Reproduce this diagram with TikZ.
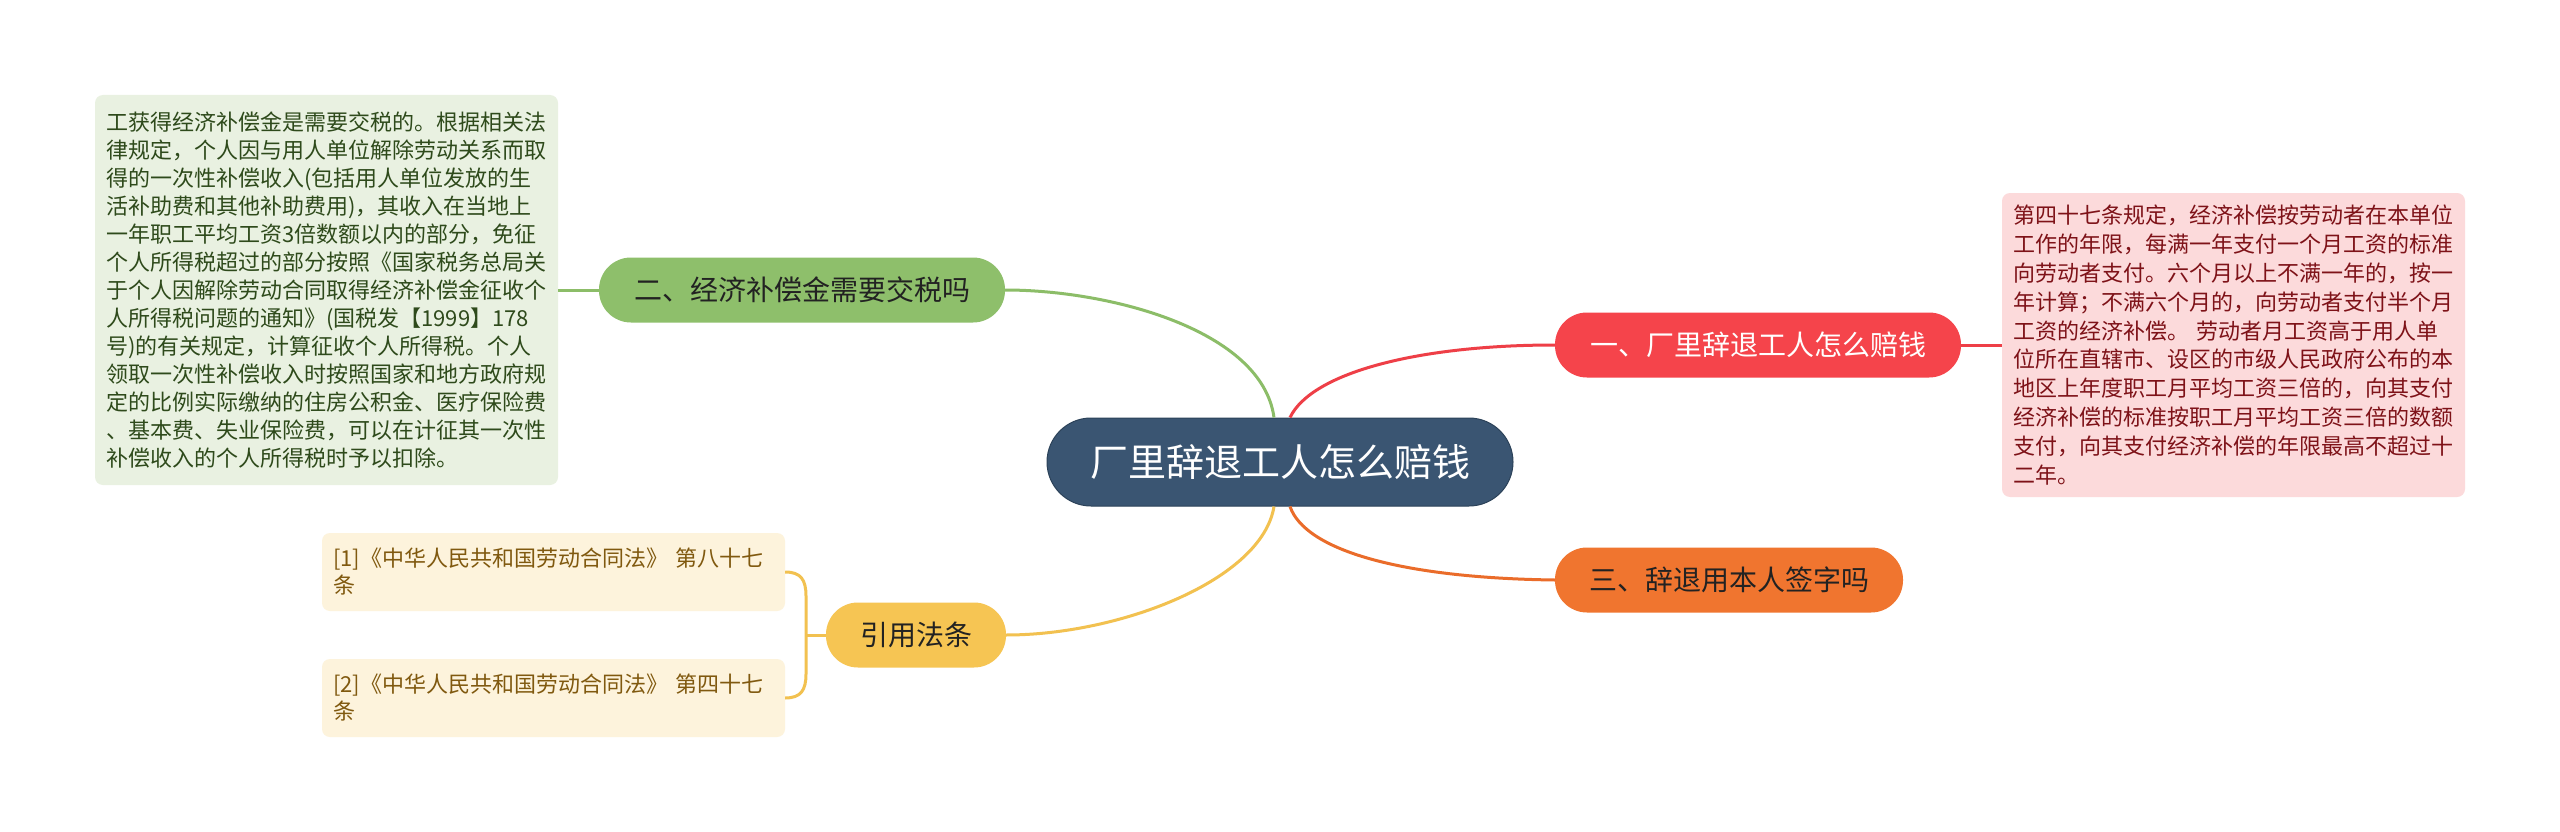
\documentclass[tikz,border=0pt]{standalone}
\usepackage{fontspec}
\setmainfont{Noto Sans CJK SC}
\usetikzlibrary{calc}
\definecolor{cnode}{HTML}{3A5572}
\definecolor{cedge}{HTML}{2C4259}
\definecolor{gnode}{HTML}{8EBF6B}
\definecolor{gline}{HTML}{8CBD68}
\definecolor{gbox}{HTML}{E9F1E1}
\definecolor{gtxt}{HTML}{2E4A1B}
\definecolor{rnode}{HTML}{F5444B}
\definecolor{rline}{HTML}{EE3F47}
\definecolor{rbox}{HTML}{FCDADB}
\definecolor{rtxt}{HTML}{7E1218}
\definecolor{onode}{HTML}{F0752F}
\definecolor{oline}{HTML}{EA6C2A}
\definecolor{ynode}{HTML}{F6C553}
\definecolor{yline}{HTML}{F2C150}
\definecolor{ybox}{HTML}{FDF3DC}
\definecolor{ytxt}{HTML}{80590F}
\definecolor{darktxt}{HTML}{222222}
\begin{document}
\begin{tikzpicture}[x=1pt,y=-1pt,
  pill/.style={rounded corners=32pt, minimum height=65pt, inner sep=0pt,
    font=\fontsize{28pt}{34pt}\selectfont},
  rootnode/.style={rounded corners=44pt, minimum height=88pt, minimum width=466pt,
    inner sep=0pt, fill=cnode, draw=cedge, line width=1pt, text=white,
    font=\fontsize{38pt}{44pt}\selectfont},
  detail/.style={rounded corners=8pt, inner xsep=11pt, inner ysep=0pt, align=left,
    text width=441pt},
  conn/.style={line width=3pt}
]
\fill[white] (0,0) rectangle (2560,832);
\useasboundingbox (0,0) rectangle (2560,832);

% root
\node[rootnode] (root) at (1280,462) {厂里辞退工人怎么赔钱};

% branch nodes
\node[pill, fill=gnode, text=darktxt, minimum width=406pt] (g) at (802,290) {二、经济补偿金需要交税吗};
\node[pill, fill=rnode, text=white, minimum width=406pt] (r) at (1758,345) {一、厂里辞退工人怎么赔钱};
\node[pill, fill=onode, text=darktxt, minimum width=348pt] (o) at (1729,580) {三、辞退用本人签字吗};
\node[pill, fill=ynode, text=darktxt, minimum width=180pt] (y) at (916,635) {引用法条};

% detail boxes
\node[detail, fill=gbox, text=gtxt, minimum height=390pt,
  font=\fontsize{22pt}{28pt}\selectfont] (gt) at (326.5,290) {工获得经济补偿金是需要交税的。根据相关法\\
律规定，个人因与用人单位解除劳动关系而取\\
得的一次性补偿收入(包括用人单位发放的生\\
活补助费和其他补助费用)，其收入在当地上\\
一年职工平均工资3倍数额以内的部分，免征\\
个人所得税超过的部分按照《国家税务总局关\\
于个人因解除劳动合同取得经济补偿金征收个\\
人所得税问题的通知》(国税发【1999】178\\
号)的有关规定，计算征收个人所得税。个人\\
领取一次性补偿收入时按照国家和地方政府规\\
定的比例实际缴纳的住房公积金、医疗保险费\\
、基本费、失业保险费，可以在计征其一次性\\
补偿收入的个人所得税时予以扣除。};

\node[detail, fill=rbox, text=rtxt, minimum height=304pt,
  font=\fontsize{22pt}{28.8pt}\selectfont] (rt) at (2233.5,345) {第四十七条规定，经济补偿按劳动者在本单位\\
工作的年限，每满一年支付一个月工资的标准\\
向劳动者支付。六个月以上不满一年的，按一\\
年计算；不满六个月的，向劳动者支付半个月\\
工资的经济补偿。 劳动者月工资高于用人单\\
位所在直辖市、设区的市级人民政府公布的本\\
地区上年度职工月平均工资三倍的，向其支付\\
经济补偿的标准按职工月平均工资三倍的数额\\
支付，向其支付经济补偿的年限最高不超过十\\
二年。};

\node[detail, fill=ybox, text=ytxt, minimum height=78pt,
  font=\fontsize{22pt}{27pt}\selectfont] (c1) at (553.5,572) {[1]《中华人民共和国劳动合同法》 第八十七\\条};
\node[detail, fill=ybox, text=ytxt, minimum height=78pt,
  font=\fontsize{22pt}{27pt}\selectfont] (c2) at (553.5,698) {[2]《中华人民共和国劳动合同法》 第四十七\\条};

% connectors from root
\coordinate (rtl) at ($(root.north)+(-6,0)$);
\coordinate (rtr) at ($(root.north)+(10,0)$);
\coordinate (rbl) at ($(root.south)+(-6,0)$);
\coordinate (rbr) at ($(root.south)+(10,0)$);
\draw[conn, gline] (rtl) .. controls (1262,330) and (1110,290) .. (g.east);
\draw[conn, rline] (rtr) .. controls (1312,372) and (1420,345) .. (r.west);
\draw[conn, oline] (rbr) .. controls (1305,550) and (1400,578) .. (o.west);
\draw[conn, yline] (rbl) .. controls (1262,580) and (1120,635) .. (y.east);

% leaf connectors
\draw[conn, gline] (gt.east) -- (g.west);
\draw[conn, rline] (r.east) -- (rt.west);

\coordinate (brk) at (806,635);
\draw[conn, yline] (c1.east) .. controls (801,572) and (806,580) .. (806,596)
  -- (806,674) .. controls (806,690) and (801,698) .. (c2.east);
\draw[conn, yline] (brk) -- (y.west);
\end{tikzpicture}
\end{document}
